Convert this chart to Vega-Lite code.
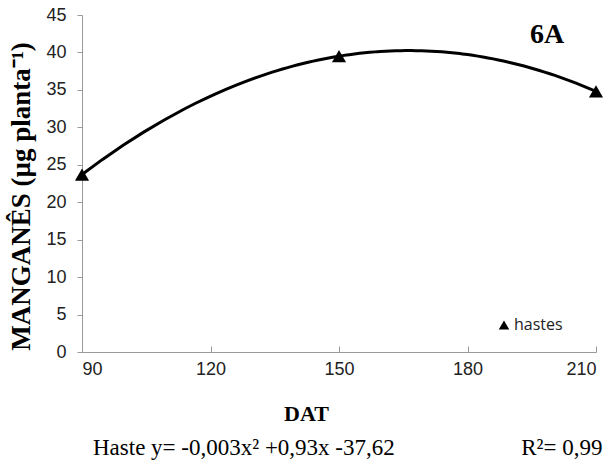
{
  "$schema": "https://vega.github.io/schema/vega-lite/v6.json",
  "autosize": "none",
  "width": 514,
  "height": 337,
  "padding": {"left": 82, "top": 15, "right": 18, "bottom": 111},
  "background": "white",
  "config": {"view": {"stroke": null}},
  "title": {
    "text": "Haste y= -0,003x² +0,93x -37,62\u00a0\u00a0\u00a0\u00a0\u00a0\u00a0\u00a0\u00a0\u00a0\u00a0\u00a0\u00a0\u00a0\u00a0\u00a0\u00a0\u00a0\u00a0\u00a0\u00a0\u00a0\u00a0R²= 0,99",
    "orient": "bottom",
    "anchor": "start",
    "frame": "group",
    "dx": 11,
    "offset": 13,
    "font": "Liberation Serif",
    "fontSize": 23,
    "fontWeight": "normal",
    "color": "black"
  },
  "datasets": {
    "pts": [
      {"dat": 90, "mn": 23.7, "serie": "hastes"},
      {"dat": 150, "mn": 39.5, "serie": "hastes"},
      {"dat": 210, "mn": 34.8, "serie": "hastes"}
    ],
    "lab": [{"dat": 198.6, "mn": 42.3, "label": "6A"}]
  },
  "encoding": {
    "x": {
      "field": "dat", "type": "quantitative",
      "scale": {"domain": [90, 210], "nice": false, "zero": false},
      "axis": {
        "values": [90, 120, 150, 180, 210],
        "title": "DAT",
        "titleX": 224,
        "grid": false,
        "domainColor": "#999999",
        "tickColor": "#999999",
        "tickSize": -6,
        "labelPadding": 14,
        "labelFont": "Liberation Sans",
        "labelFontSize": 18,
        "labelColor": "#222222",
        "labelOverlap": false,
        "titleFont": "Liberation Serif",
        "titleFontSize": 22,
        "titleFontWeight": "bold",
        "titleColor": "black",
        "titlePadding": 25
      }
    },
    "y": {
      "field": "mn", "type": "quantitative",
      "scale": {"domain": [0, 45], "nice": false},
      "axis": {
        "values": [0, 5, 10, 15, 20, 25, 30, 35, 40, 45],
        "title": "MANGANÊS (µg planta⁻¹)",
        "titleY": 181,
        "grid": false,
        "domainColor": "#999999",
        "tickColor": "#999999",
        "tickSize": 5,
        "labelPadding": 11,
        "labelFont": "Liberation Sans",
        "labelFontSize": 18,
        "labelColor": "#222222",
        "labelOverlap": false,
        "titleFont": "Liberation Serif",
        "titleFontSize": 27,
        "titleFontWeight": "bold",
        "titleColor": "black",
        "titlePadding": 10
      }
    }
  },
  "layer": [
    {
      "data": {"name": "pts"},
      "transform": [
        {"regression": "mn", "on": "dat", "method": "poly", "order": 2, "extent": [90, 210]}
      ],
      "mark": {"type": "line", "color": "black", "strokeWidth": 3, "clip": false}
    },
    {
      "data": {"name": "pts"},
      "mark": {"type": "point", "filled": true, "opacity": 1, "size": 200, "clip": false},
      "encoding": {
        "shape": {
          "field": "serie", "type": "nominal",
          "scale": {"range": ["triangle-up"]},
          "legend": {
            "title": null,
            "orient": "none",
            "legendX": 414,
            "legendY": 302,
            "labelFont": "Open Sans",
            "labelFontSize": 16,
            "labelColor": "#222222",
            "symbolSize": 110,
            "symbolFillColor": "black",
            "symbolStrokeColor": "black",
            "labelOffset": 2
          }
        },
        "color": {"value": "black"}
      }
    },
    {
      "data": {"name": "lab"},
      "mark": {"type": "text", "font": "Liberation Serif", "fontSize": 28, "fontWeight": "bold", "color": "black", "align": "center", "baseline": "middle"},
      "encoding": {
        "text": {"field": "label"}
      }
    }
  ]
}
